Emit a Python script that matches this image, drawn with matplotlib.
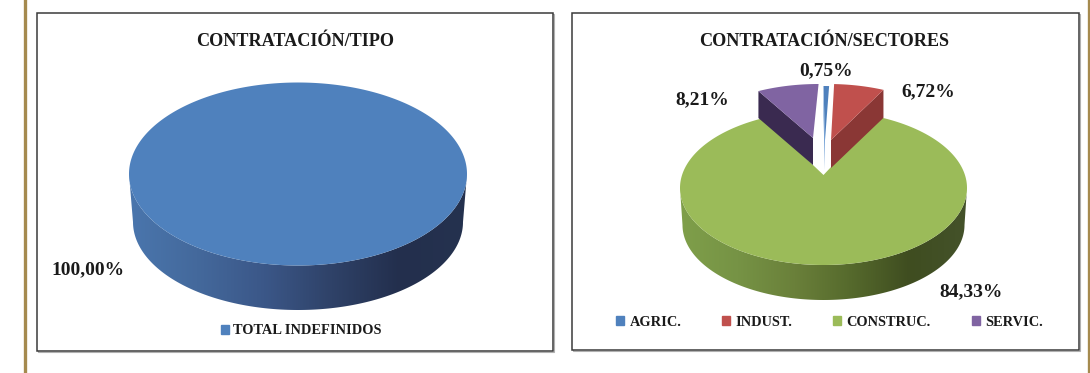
import numpy as np
import matplotlib
matplotlib.use("Agg")
import matplotlib.pyplot as plt
from matplotlib.colors import LinearSegmentedColormap
from matplotlib.patches import Patch, Polygon, Rectangle

# ---- data ----
tipo_labels = ["TOTAL INDEFINIDOS"]
tipo_values = [100.00]
sector_labels = ["AGRIC.", "INDUST.", "CONSTRUC.", "SERVIC."]
sector_values = [0.75, 6.72, 84.33, 8.21]
title_tipo = "CONTRATACIÓN/TIPO"
title_sector = "CONTRATACIÓN/SECTORES"

# ---- style ----
top_colors = ["#4f81bd", "#c0504d", "#9bbb59", "#8064a2"]
cut_colors = ["#5f93d0", "#8a3735", "#6f8a3c", "#3a2a50"]
blue_side = ["#4a76ad", "#44699c", "#3b5788", "#2f4268", "#232f4d", "#25324f"]
green_side = ["#7f9f4a", "#769345", "#6a803a", "#55692c", "#3f4d20", "#44522a"]
FONT = "Liberation Serif"
TXT = "#1a1a1a"
LABEL_SIZE = 14
TITLE_SIZE = 13.1
LEGEND_SIZE = 10.4

plt.rcParams["font.family"] = FONT
plt.rcParams["font.weight"] = "bold"
fig = plt.figure(figsize=(10.9, 3.73), dpi=100, facecolor="white")
ax = fig.add_axes([0, 0, 1, 1])
ax.set_xlim(0, 1090)
ax.set_ylim(373, 0)
ax.axis("off")


def pct(v):
    return f"{v:.2f}".replace(".", ",") + "%"


def ray_point(theta, cx, cy, a, b, ax0, ay0):
    """Point where the ray at clockwise angle theta (deg from 12 o'clock),
    starting at the apex, reaches the projected ellipse."""
    t = np.radians(theta)
    dx, dy = np.sin(t), -np.cos(t) * b / a
    ox, oy = ax0 - cx, ay0 - cy
    A = (dx / a) ** 2 + (dy / b) ** 2
    B = 2 * (ox * dx / a**2 + oy * dy / b**2)
    C = (ox / a) ** 2 + (oy / b) ** 2 - 1
    s = (-B + np.sqrt(B**2 - 4 * A * C)) / (2 * A)
    return np.array([ax0 + s * dx, ay0 + s * dy])


def arc(th0, th1, *geom):
    n = max(int(abs(th1 - th0)), 2) + 1
    return np.array([ray_point(th, *geom) for th in np.linspace(th0, th1, n)])


def side_band(cx, cy, a, b, bcy, ba, bb, colors, zorder=2):
    t = np.linspace(0, np.pi, 180)
    upper = np.c_[cx + a * np.cos(t), cy + b * np.sin(t)]
    lower = np.c_[cx + ba * np.cos(t[::-1]), bcy + bb * np.sin(t[::-1])]
    poly = Polygon(np.r_[upper, lower], closed=True, fc="none", ec="none",
                   transform=ax.transData)
    ax.add_patch(poly)
    cmap = LinearSegmentedColormap.from_list("side", colors)
    grad = np.linspace(0, 1, 256)[None, :]
    im = ax.imshow(grad, cmap=cmap, aspect="auto", zorder=zorder,
                   extent=(cx - a, cx + a, bcy + bb, cy - 5))
    im.set_clip_path(poly)


# ---- panels ----
for x0, y0, x1, y1 in [(37, 13, 553, 351), (572, 13, 1079, 350)]:
    ax.add_patch(Rectangle((x0 + 1, y0 + 1), x1 - x0, y1 - y0, fc="none",
                           ec="#b0b0b0", lw=0.8, zorder=0.5))
    ax.add_patch(Rectangle((x0, y0), x1 - x0, y1 - y0, fc="white",
                           ec="#3a3a3a", lw=1.1, zorder=1))

# page rules
ax.plot([24.5, 24.5], [0, 373], color="#a58a4e", lw=2.4, zorder=1)
ax.plot([1088.5, 1088.5], [0, 373], color="#a58a4e", lw=2.4, zorder=1)

# ---- left pie ----
cx, cy, a, b = 298, 174, 169, 91.5
side_band(cx, cy, a, b, 222, 165, 88, blue_side)
t = np.linspace(0, 2 * np.pi, 361)
frac = tipo_values[0] / 100
ax.add_patch(Polygon(np.c_[cx + a * np.cos(t * frac), cy + b * np.sin(t * frac)],
                     closed=True, fc=top_colors[0], ec="none", zorder=3))
ax.text(295, 41, title_tipo, ha="center", va="center", fontsize=TITLE_SIZE, color=TXT, zorder=5)
ax.text(88, 270, pct(tipo_values[0]), ha="center", va="center", fontsize=LABEL_SIZE, color=TXT, zorder=5)
legend_tipo = ax.legend(handles=[Patch(color=top_colors[0], label=tipo_labels[0])],
                        loc="center", bbox_to_anchor=(301 / 1090, 1 - 331 / 373),
                        bbox_transform=fig.transFigure, frameon=False, fontsize=LEGEND_SIZE,
                        handlelength=0.55, handleheight=0.55, handletextpad=0.3,
                        labelcolor=TXT, borderpad=0)
ax.add_artist(legend_tipo)

# ---- right pie ----
cx, cy, a, b = 823.5, 188, 143.5, 77
apex = (823.5, 175)
geom = (cx, cy, a, b, *apex)
side_band(cx, cy, a, b, 225, 141, 75, green_side)

bounds = np.r_[0, np.cumsum(sector_values)] * 3.6
arc_shift = [(0, -25), (5, -27), None, (-5, -27)]
apex_pos = [(825, 140), (831, 140), None, (813, 138)]
depth = [30, 28, 0, 27]

# main slice
main = 2
outer = arc(bounds[main], bounds[main + 1], *geom)
ax.add_patch(Polygon(np.r_[[apex], outer], closed=True, fc=top_colors[main],
                     ec="none", zorder=3))

# pulled-out slices
for i in [0, 1, 3]:
    rim = arc(bounds[i], bounds[i + 1], *geom) + np.array(arc_shift[i])
    ap = np.array(apex_pos[i])
    d = np.array([0, depth[i]])
    edge = rim[-1] if i == 1 else rim[0]
    ax.add_patch(Polygon([ap, edge, edge + d, ap + d], closed=True,
                         fc=cut_colors[i], ec="none", zorder=4))
    ax.add_patch(Polygon(np.r_[[ap], rim], closed=True, fc=top_colors[i],
                         ec="none", zorder=4.5))

ax.text(824, 41, title_sector, ha="center", va="center", fontsize=TITLE_SIZE, color=TXT, zorder=5)
label_xy = [(826, 71), (928, 92), (971, 292), (702, 100)]
for v, (lx, ly) in zip(sector_values, label_xy):
    ax.text(lx, ly, pct(v), ha="center", va="center", fontsize=LABEL_SIZE, color=TXT, zorder=5)

ax.legend(handles=[Patch(color=c, label=l) for c, l in zip(top_colors, sector_labels)],
          loc="center", bbox_to_anchor=(829.5 / 1090, 1 - 322 / 373),
          bbox_transform=fig.transFigure, frameon=False, fontsize=LEGEND_SIZE, ncols=4,
          handlelength=0.55, handleheight=0.55, handletextpad=0.35,
          columnspacing=2.85, labelcolor=TXT, borderpad=0)

ax.set_xlim(0, 1090)
ax.set_ylim(373, 0)
fig.savefig("out.png", dpi=100, facecolor="white")
